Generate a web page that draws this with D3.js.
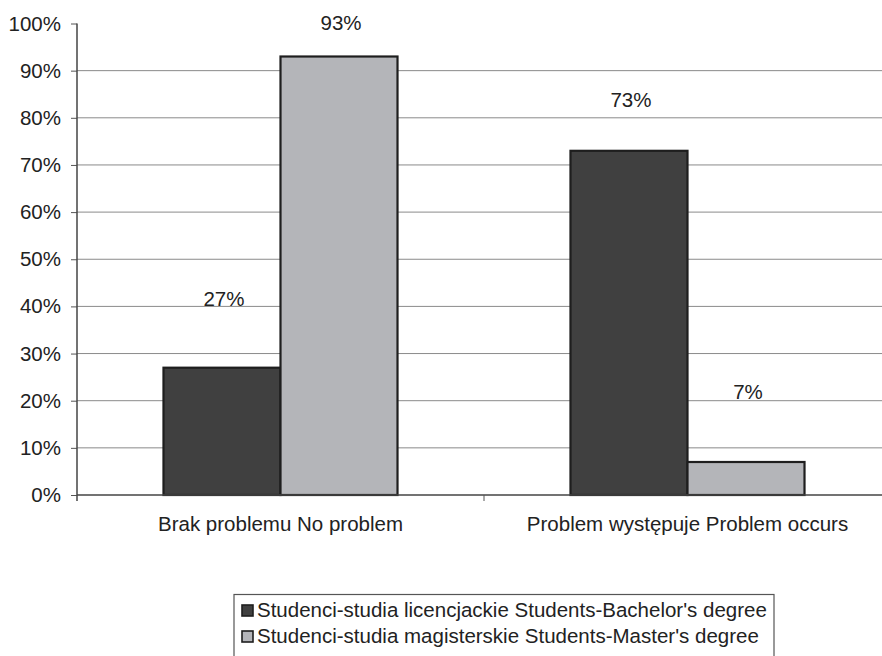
<!DOCTYPE html>
<html><head><meta charset="utf-8">
<script src="https://cdn.jsdelivr.net/npm/d3@7"></script>
<style>body{margin:0;background:#fff}svg{display:block;font-family:"Liberation Sans",Arial,sans-serif}</style>
</head><body><svg id="c" width="882" height="656"></svg>
<script>
const categories = ["Brak problemu No problem", "Problem występuje Problem occurs"];
const seriesNames = ["Studenci-studia licencjackie Students-Bachelor's degree", "Studenci-studia magisterskie Students-Master's degree"];
const bachelor = [0.27, 0.73];
const master = [0.93, 0.07];
const labelLevels = [[0.40, 0.823], [0.986, 0.203]]; // label baselines, per series
const yTicks = [0, 0.1, 0.2, 0.3, 0.4, 0.5, 0.6, 0.7, 0.8, 0.9, 1.0];

(function () {
const FS = 20.5;
const colors = ["#404040", "#b4b5b9"];
const series = [bachelor, master];
const svg = d3.select("#c");
const pL = 77, pR = 891, pT = 23.5, pB = 495;

const y = d3.scaleLinear().domain([0, 1]).range([pB, pT]);
const x0 = d3.scaleBand().domain(categories).range([pL, pR]).paddingInner(0.425).paddingOuter(0.2125);
const x1 = d3.scaleBand().domain(d3.range(series.length)).range([0, x0.bandwidth()]);

// gridlines
svg.append("g").selectAll("line").data(yTicks.filter(t => t > 0 && t < 1)).join("line")
  .attr("x1", pL).attr("x2", pR).attr("y1", d => y(d)).attr("y2", d => y(d))
  .attr("stroke", "#8a8a8a").attr("stroke-width", 1);

// y axis
const yAxis = d3.axisLeft(y).tickValues(yTicks).tickFormat(d3.format(".0%")).tickSize(6).tickPadding(10);
const ga = svg.append("g").attr("transform", `translate(${pL},0)`).call(yAxis);
ga.select(".domain").remove();
ga.selectAll(".tick line").attr("stroke", "#555");
ga.selectAll(".tick text").attr("font-size", FS).attr("fill", "#222").attr("font-family", "Liberation Sans, Arial, sans-serif");
svg.append("line").attr("x1", pL).attr("x2", pL).attr("y1", pT).attr("y2", pB + 6).attr("stroke", "#444").attr("stroke-width", 1.5);

// bars
series.forEach((vals, si) => {
  svg.append("g").selectAll("rect").data(vals).join("rect")
    .attr("x", (d, i) => x0(categories[i]) + x1(si))
    .attr("width", x1.bandwidth())
    .attr("y", d => y(d))
    .attr("height", d => y(0) - y(d))
    .attr("fill", colors[si]).attr("stroke", "#1e1e1e").attr("stroke-width", 2.2);
});

// x axis line and ticks
svg.append("line").attr("x1", pL).attr("x2", pR).attr("y1", pB).attr("y2", pB).attr("stroke", "#444").attr("stroke-width", 1.5);
const xAxis = d3.axisBottom(x0).tickSize(0).tickPadding(21.5);
const gx = svg.append("g").attr("transform", `translate(0,${pB})`).call(xAxis);
gx.select(".domain").remove();
gx.selectAll(".tick text").attr("font-size", FS).attr("fill", "#222").attr("font-family", "Liberation Sans, Arial, sans-serif");
const sepX = x0(categories[1]) - x0.step() * x0.paddingInner() / 2;
svg.append("line").attr("x1", sepX).attr("x2", sepX)
  .attr("y1", pB).attr("y2", pB + 6).attr("stroke", "#555");

// value labels
series.forEach((vals, si) => {
  svg.append("g").selectAll("text").data(vals).join("text")
    .attr("x", (d, i) => x0(categories[i]) + x1(si) + x1.bandwidth() / 2 + 2)
    .attr("y", (d, i) => y(labelLevels[si][i]))
    .attr("text-anchor", "middle").attr("font-size", FS).attr("fill", "#222")
    .text(d => d3.format(".0%")(d));
});

// legend
const lg = svg.append("g");
lg.append("rect").attr("x", 234).attr("y", 594.5).attr("width", 540).attr("height", 70).attr("fill", "#fff").attr("stroke", "#555").attr("stroke-width", 1.2);
seriesNames.forEach((n, i) => {
  const yy = 617 + i * 26;
  lg.append("rect").attr("x", 242).attr("y", yy - 12).attr("width", 11).attr("height", 11)
    .attr("fill", colors[i]).attr("stroke", "#1e1e1e").attr("stroke-width", 1.6);
  lg.append("text").attr("x", 257).attr("y", yy).attr("font-size", FS).attr("fill", "#222").text(n);
});
})();
</script></body></html>
